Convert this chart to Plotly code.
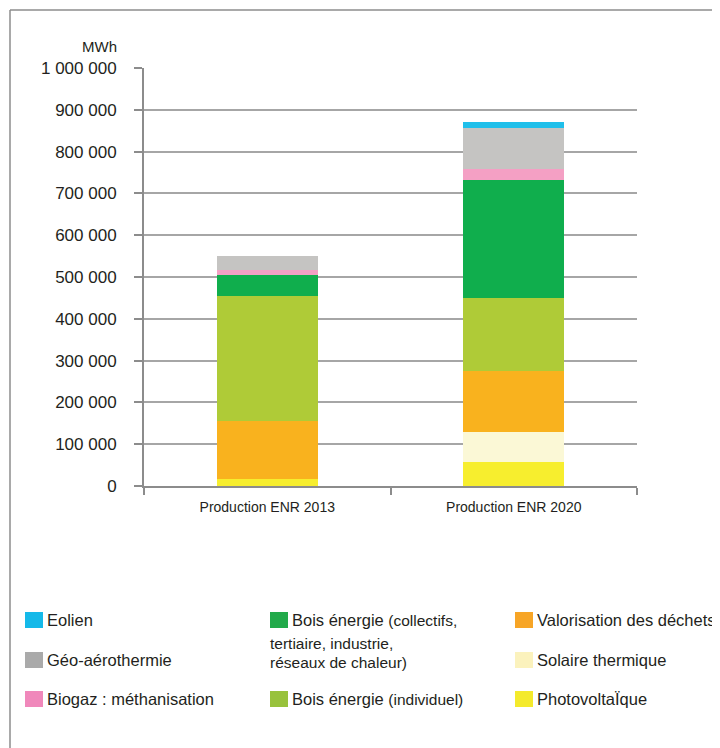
import plotly.graph_objects as go

# ---- data ----
categories = ["Production ENR 2013", "Production ENR 2020"]
series_names = [
    "Photovoltaïque",
    "Solaire thermique",
    "Valorisation des déchets",
    "Bois énergie (individuel)",
    "Bois énergie (collectifs, tertiaire, industrie, réseaux de chaleur)",
    "Biogaz : méthanisation",
    "Géo-aérothermie",
    "Eolien",
]
photovoltaique = [17000, 57000]
solaire_thermique = [0, 72000]
valorisation_dechets = [139000, 146500]
bois_individuel = [298000, 174000]
bois_collectif = [51000, 282000]
biogaz = [11000, 26000]
geo_aerothermie = [34000, 98000]
eolien = [0, 15000]
series_values = [photovoltaique, solaire_thermique, valorisation_dechets, bois_individuel,
                 bois_collectif, biogaz, geo_aerothermie, eolien]
bar_colors = ["#f7ee2e", "#fbf8d6", "#f9b21e", "#afcb37", "#10ae4d", "#f4a0c4", "#c5c4c2", "#1fbfea"]
legend_colors = ["#f4ea2c", "#fbf2bd", "#f7a526", "#98c23c", "#22aa4a", "#f088bb", "#aaaaaa", "#15b9e9"]
y_ticks = [0, 100000, 200000, 300000, 400000, 500000, 600000, 700000, 800000, 900000, 1000000]

FONT = "Liberation Sans, Arial, sans-serif"
TXT = "#231f20"
OFF = 8  # page body margin of the browser
W, H = 720 - OFF, 748 - OFF
PLOT_L, PLOT_R, PLOT_T, PLOT_B = 144, 637, 68, 486  # in window pixels
L, R, T, B = PLOT_L - OFF, 720 - PLOT_R, PLOT_T - OFF, 748 - PLOT_B
PW, PH = PLOT_R - PLOT_L, PLOT_B - PLOT_T


def px(x):
    return (x - PLOT_L) / PW


def py(y):
    return (PLOT_B - y) / PH


fig = go.Figure()
for name, vals, col in zip(series_names, series_values, bar_colors):
    fig.add_trace(go.Bar(x=categories, y=vals, name=name, marker=dict(color=col, line=dict(width=0)),
                         width=0.41, showlegend=False))

shapes = []
annotations = []
# frame lines
shapes.append(dict(type="line", xref="paper", yref="paper", x0=px(10), x1=px(730), y0=py(10), y1=py(10),
                   line=dict(color="#8c8c8c", width=1.5)))
shapes.append(dict(type="line", xref="paper", yref="paper", x0=px(10), x1=px(10), y0=py(10), y1=py(760),
                   line=dict(color="#8c8c8c", width=1.5)))

annotations.append(dict(text="MWh", xref="paper", yref="paper", x=px(119), y=py(47), xanchor="right",
                        yanchor="middle", showarrow=False, font=dict(size=15, color=TXT, family=FONT)))

# custom legend
legend_items = [
    # (series index, swatch left px, row center px, label html)
    (7, 25, 620, "Eolien"),
    (6, 25, 660, "Géo-aérothermie"),
    (5, 25, 699, "Biogaz : méthanisation"),
    (4, 270, 620, "Bois énergie <span style='font-size:15.5px'>(collectifs,</span>"),
    (3, 270, 699, "Bois énergie <span style='font-size:15.5px'>(individuel)</span>"),
    (2, 515, 620, "Valorisation des déchets"),
    (1, 515, 660, "Solaire thermique"),
    (0, 515, 699, "PhotovoltaÏque"),
]
for idx, x0, yc, label in legend_items:
    shapes.append(dict(type="rect", xref="paper", yref="paper", x0=px(x0), x1=px(x0 + 18),
                       y0=py(yc - 8), y1=py(yc + 8), fillcolor=legend_colors[idx], line=dict(width=0)))
    annotations.append(dict(text=label, xref="paper", yref="paper", x=px(x0 + 20), y=py(yc), xanchor="left",
                            yanchor="middle", showarrow=False, font=dict(size=16.5, color=TXT, family=FONT)))
for text, yc in [("tertiaire, industrie,", 643), ("réseaux de chaleur)", 662)]:
    annotations.append(dict(text=text, xref="paper", yref="paper", x=px(268), y=py(yc), xanchor="left",
                            yanchor="middle", showarrow=False, font=dict(size=15.5, color=TXT, family=FONT)))

fig.update_layout(
    width=W, height=H,
    margin=dict(l=L, r=R, t=T, b=B, pad=0),
    barmode="stack",
    plot_bgcolor="white", paper_bgcolor="white",
    separators=", ",
    font=dict(family=FONT, color=TXT),
    shapes=shapes,
    annotations=annotations,
    showlegend=False,
    xaxis=dict(
        showline=True, linecolor="#8c8c8c", linewidth=2,
        ticks="outside", tickson="boundaries", ticklen=7, tickwidth=2, tickcolor="#8c8c8c",
        ticklabelstandoff=7,
        tickfont=dict(size=14, color=TXT, family=FONT), showgrid=False, fixedrange=True,
    ),
    yaxis=dict(
        range=[0, 1000000], tickvals=y_ticks, tickformat=",d",
        showline=True, linecolor="#8c8c8c", linewidth=2,
        ticks="outside", ticklen=8, tickwidth=2, tickcolor="#8c8c8c", ticklabelstandoff=14,
        tickfont=dict(size=17, color=TXT, family=FONT),
        showgrid=True, gridcolor="#a6a6a6", gridwidth=1.5, zeroline=False, fixedrange=True,
    ),
)

fig.write_html("out.html")
